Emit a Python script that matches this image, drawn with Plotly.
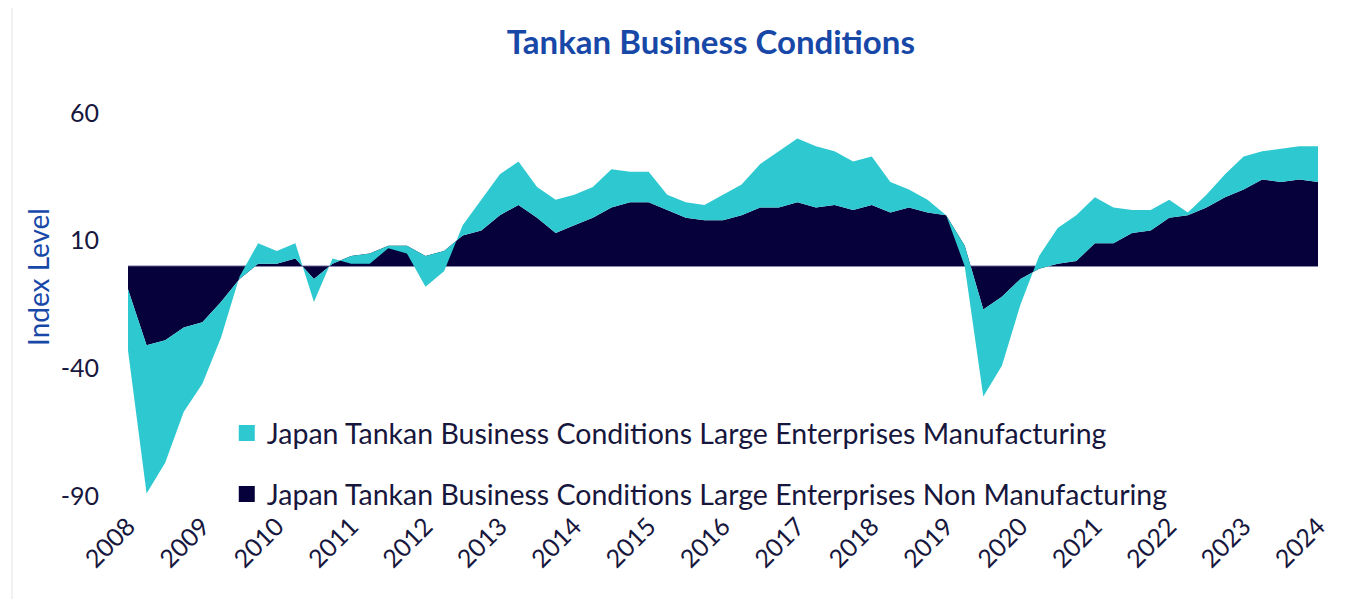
import plotly.graph_objects as go

# Quarterly survey points, Dec 2008 .. Dec 2024
years = ["2008", "2009", "2010", "2011", "2012", "2013", "2014", "2015", "2016",
         "2017", "2018", "2019", "2020", "2021", "2022", "2023", "2024"]
quarters = ["Dec 2008"] + [f"{m} {y}" for y in years[1:] for m in ["Mar", "Jun", "Sep", "Dec"]]

non_manufacturing = [-9, -31, -29, -24, -22, -14, -5, 1, 1, 3,
                     -5, 1, 4, 5, 8, 8, 4, 6, 12, 14,
                     20, 24, 19, 13, 16, 19, 23, 25, 25, 22,
                     19, 18, 18, 20, 23, 23, 25, 23, 24, 22,
                     24, 21, 23, 21, 20, 8, -17, -12, -5, -1,
                     1, 2, 9, 9, 13, 14, 19, 20, 23, 27,
                     30, 34, 33, 34, 33]
manufacturing = [-24, -58, -48, -33, -24, -14, 1, 8, 5, 6,
                 -9, 2, -3, -4, -1, -3, -12, -8, 4, 12,
                 16, 17, 12, 13, 12, 12, 15, 12, 12, 6,
                 6, 6, 10, 12, 17, 22, 25, 24, 21, 19,
                 19, 12, 7, 5, 0, -8, -34, -27, -10, 5,
                 14, 18, 18, 14, 9, 8, 7, 1, 5, 9,
                 13, 11, 13, 13, 14]

y_ticks = [-90, -40, 10, 60]
y_tick_text = ["-90", "-40", "10", "60"]

name_mfg = "Japan Tankan Business Conditions Large Enterprises Manufacturing"
name_non = "Japan Tankan Business Conditions Large Enterprises Non Manufacturing"

CYAN = "#2EC9D0"
NAVY = "#06013A"
TEXT = "#17173D"
BLUE = "#1748A8"
FONT = "Lato"

fig = go.Figure()
fig.add_trace(go.Scatter(x=quarters, y=non_manufacturing, name=name_non, stackgroup="s",
                         mode="lines", line=dict(width=0, color=NAVY), fillcolor=NAVY,
                         showlegend=False, hoverinfo="x+y"))
fig.add_trace(go.Scatter(x=quarters, y=manufacturing, name=name_mfg, stackgroup="s",
                         mode="lines", line=dict(width=0, color=CYAN), fillcolor=CYAN,
                         showlegend=False, hoverinfo="x+y"))
# legend entries
fig.add_trace(go.Scatter(x=[None], y=[None], mode="markers", name=name_mfg, legendgroup="a",
                         marker=dict(symbol="square", size=19, color=CYAN)))
fig.add_trace(go.Scatter(x=[None], y=[None], mode="markers", name=name_non, legendgroup="b",
                         marker=dict(symbol="square", size=19, color=NAVY)))

fig.update_layout(
    width=1349, height=599,
    paper_bgcolor="white", plot_bgcolor="white",
    margin=dict(l=120, r=39, t=105, b=111, autoexpand=False),
    font=dict(family=FONT, color=TEXT),
    title=dict(text="<b>Tankan Business Conditions</b>", x=0.521, xanchor="center",
               y=0.943, yanchor="middle", font=dict(size=33, color=BLUE, family=FONT)),
    showlegend=True,
    legend=dict(x=0.083, xanchor="left", y=0.23, yanchor="top",
                font=dict(size=28.5, color=TEXT, family=FONT),
                traceorder="grouped", tracegroupgap=21, bgcolor="rgba(0,0,0,0)",
                itemwidth=30),
)
fig.update_xaxes(
    type="category", range=[0, len(quarters) - 1],
    tickmode="array", tickvals=quarters[::4], ticktext=years,
    tickangle=-45, tickfont=dict(size=25, color=TEXT, family=FONT),
    showgrid=False, zeroline=False, showline=False, ticks="", ticklabelstandoff=10,
)
fig.update_yaxes(
    range=[-90, 60], tickmode="array", tickvals=y_ticks, ticktext=y_tick_text,
    tickfont=dict(size=25, color=TEXT, family=FONT),
    showgrid=False, zeroline=True, zerolinecolor="#B7B4D6", zerolinewidth=1.5,
    showline=False, ticks="", ticklabelstandoff=28, layer="above traces",
)
fig.add_annotation(text="Index Level", textangle=-90, xref="paper", yref="paper",
                   x=-0.0756, y=0.572, xanchor="center", yanchor="middle", showarrow=False,
                   font=dict(size=28, color=BLUE, family=FONT))
fig.add_shape(type="line", xref="paper", yref="paper", x0=-0.0975, x1=-0.0975,
              y0=-0.3, y1=1.3, line=dict(color="#E3E3E3", width=1))

fig.write_html("out.html")
